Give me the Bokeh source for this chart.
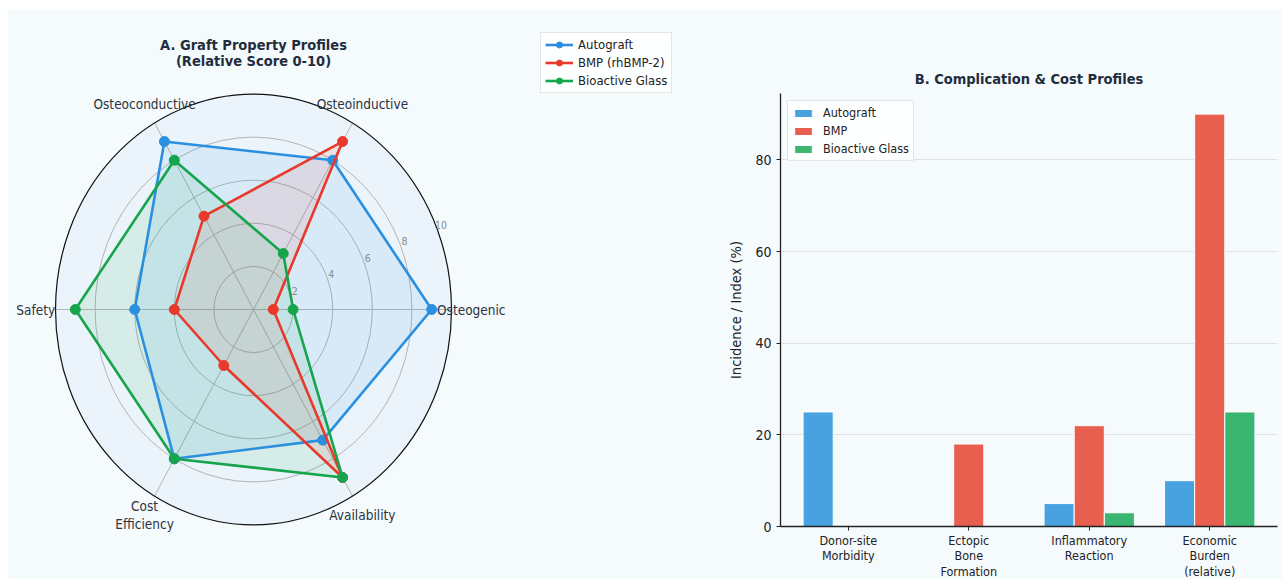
import numpy as np
from bokeh.plotting import figure
from bokeh.layouts import row, column
from bokeh.models import (Legend, LegendItem, Label, FixedTicker, Range1d, ColumnDataSource)
from bokeh.core.properties import value
from bokeh.embed import file_html
from bokeh.resources import INLINE

# ---------------- data ----------------
radar_categories = ["Osteogenic", "Osteoinductive", "Osteoconductive", "Safety", "Cost\nEfficiency", "Availability"]
autograft_scores = [9, 8, 9, 6, 8, 7]
bmp_scores = [1, 9, 5, 4, 3, 9]
bioglass_scores = [2, 3, 8, 9, 8, 9]
radar_series_names = ["Autograft", "BMP (rhBMP-2)", "Bioactive Glass"]
ring_ticks = [2, 4, 6, 8, 10]

bar_categories = ["Donor-site\nMorbidity", "Ectopic\nBone\nFormation", "Inflammatory\nReaction", "Economic\nBurden\n(relative)"]
bar_autograft = [25, 0, 5, 10]
bar_bmp = [0, 18, 22, 90]
bar_bioglass = [0, 0, 3, 25]
bar_series_names = ["Autograft", "BMP", "Bioactive Glass"]
y_ticks = [0, 20, 40, 60, 80]

BLUE = "#2a8fdf"
RED = "#e8392b"
GREEN = "#16a44c"
BAR_COLORS = ["#3498db", "#e74c3c", "#27ae60"]
BG = "#f5fafd"
TXT = "#2b3440"
TITLE = "#1f2d3d"
FONT = "'DejaVu Sans Condensed', 'DejaVu Sans'"

OX, OY = 8, 10                 # white page margin (left, top)
H = 579 - OY
TOP, BOTTOM = 93 - OY, 53      # bar chart frame borders (px)
FH = H - TOP - BOTTOM

# ---------------- radar ----------------
W1 = 680 - OX
cx_px, cy_px = 253 - OX, 309 - OY   # canvas px of radar centre
sx, sy = 19.8, 21.55                 # px per score unit
p1 = figure(width=W1, height=H, output_backend="svg", toolbar_location=None,
            x_range=Range1d(-cx_px / sx, (W1 - cx_px) / sx),
            y_range=Range1d(-(H - cy_px) / sy, cy_px / sy),
            min_border=0, outline_line_color=None, x_axis_type=None, y_axis_type=None)
p1.grid.visible = False
p1.background_fill_color = BG
p1.border_fill_color = BG

n = len(radar_categories)
angles = np.arange(n) * 2 * np.pi / n

p1.ellipse(x=0, y=0, width=20, height=20, fill_color="#ecf4fb", line_color=None)
for r in ring_ticks[:-1]:
    p1.ellipse(x=0, y=0, width=2 * r, height=2 * r, fill_color=None, line_color="#b3b3b3", line_width=1)
for a in angles:
    p1.line(x=[0, 10 * np.cos(a)], y=[0, 10 * np.sin(a)], line_color="#b3b3b3", line_width=1)

series = [(autograft_scores, BLUE), (bmp_scores, RED), (bioglass_scores, GREEN)]
items = []
for (vals, col), name in zip(series, radar_series_names):
    v = np.array(vals, dtype=float)
    xs = list(v * np.cos(angles)) + [v[0] * np.cos(angles[0])]
    ys = list(v * np.sin(angles)) + [v[0] * np.sin(angles[0])]
    p1.patch(xs, ys, fill_color=col, fill_alpha=0.1, line_color=None)
for (vals, col), name in zip(series, radar_series_names):
    v = np.array(vals, dtype=float)
    xs = list(v * np.cos(angles)) + [v[0] * np.cos(angles[0])]
    ys = list(v * np.sin(angles)) + [v[0] * np.sin(angles[0])]
    ln = p1.line(xs, ys, line_color=col, line_width=2.6)
    sc = p1.scatter(xs[:-1], ys[:-1], size=10, fill_color=col, line_color=col)
    items.append(LegendItem(label=name, renderers=[ln, sc]))

p1.ellipse(x=0, y=0, width=20, height=20, fill_color=None, line_color="#111111", line_width=1.2)

ra = np.deg2rad(22.5)
rl = np.array(ring_ticks, dtype=float) + 0.25
p1.text(x=rl * np.cos(ra), y=rl * np.sin(ra), text=[str(t) for t in ring_ticks],
        text_font=value(FONT), text_font_size="10.5px", text_color="#8a8a8a",
        text_align="center", text_baseline="middle")

lr = 11.0
p1.text(x=lr * np.cos(angles), y=lr * np.sin(angles), text=radar_categories,
        text_font=value(FONT), text_font_size="13.5px", text_color=TXT,
        text_align="center", text_baseline="middle", text_line_height=1.15)

p1.add_layout(Label(x=cx_px, y=H - (44 - OY), x_units="screen", y_units="screen",
                    text="A. Graft Property Profiles", text_font=FONT, text_font_size="14.5px",
                    text_font_style="bold", text_color=TITLE, text_align="center", text_baseline="middle"))
p1.add_layout(Label(x=cx_px, y=H - (60 - OY), x_units="screen", y_units="screen",
                    text="(Relative Score 0-10)", text_font=FONT, text_font_size="14.5px",
                    text_font_style="bold", text_color=TITLE, text_align="center", text_baseline="middle"))

leg1 = Legend(items=items, location=(540 - OX, H - (93 - OY)), label_text_font=FONT,
              label_text_font_size="13px", label_text_color="#222222",
              glyph_width=28, glyph_height=15, label_height=15,
              spacing=3, padding=4, margin=0, border_line_color="#cccccc", border_line_width=1,
              background_fill_color="white", background_fill_alpha=0.9, label_standoff=5)
p1.add_layout(leg1, "center")

# ---------------- bars ----------------
W2 = 1282 - 680
p2 = figure(width=W2, height=H, output_backend="svg", toolbar_location=None,
            x_range=Range1d(-0.5625, 3.5625), y_range=Range1d(0, 94.5),
            min_border_left=100, min_border_right=5, min_border_top=TOP, min_border_bottom=BOTTOM,
            frame_height=FH,
            outline_line_color=None, title="B. Complication & Cost Profiles")
p2.background_fill_color = BG
p2.border_fill_color = BG
p2.title.align = "center"
p2.title.text_font = FONT
p2.title.text_font_size = "14.5px"
p2.title.text_font_style = "bold"
p2.title.text_color = TITLE
p2.title.standoff = 13

xs0 = np.arange(len(bar_categories))
width = 0.25
bar_items = []
for k, (vals, col, name) in enumerate(zip([bar_autograft, bar_bmp, bar_bioglass], BAR_COLORS, bar_series_names)):
    src = ColumnDataSource(dict(x=xs0 + (k - 1) * width, top=vals))
    r = p2.vbar(x="x", top="top", width=width, source=src, fill_color=col, fill_alpha=0.9,
                line_color="white", line_width=1)
    bar_items.append(LegendItem(label=name, renderers=[r]))

p2.xgrid.visible = False
p2.ygrid.grid_line_color = "#dfe3e6"
p2.ygrid.grid_line_width = 1
p2.ygrid.ticker = FixedTicker(ticks=y_ticks)
p2.yaxis.ticker = FixedTicker(ticks=y_ticks)
p2.xaxis.ticker = FixedTicker(ticks=list(xs0))
p2.xaxis.major_label_overrides = {int(i): c for i, c in zip(xs0, bar_categories)}
for ax in (p2.xaxis[0], p2.yaxis[0]):
    ax.axis_line_color = "#222222"
    ax.axis_line_width = 1.3
    ax.major_tick_line_color = "#222222"
    ax.major_tick_out = 4
    ax.major_tick_in = 0
    ax.minor_tick_line_color = None
    ax.major_label_text_font = FONT
    ax.major_label_text_color = "#222222"
p2.xaxis.major_label_text_font_size = "12.5px"
p2.xaxis.major_label_text_line_height = 1.05
p2.xaxis.major_label_standoff = 2
p2.yaxis.major_label_text_font_size = "14px"
p2.yaxis.axis_label = "Incidence / Index (%)"
p2.yaxis.axis_label_text_font = FONT
p2.yaxis.axis_label_text_font_size = "14.5px"
p2.yaxis.axis_label_text_font_style = "normal"
p2.yaxis.axis_label_text_color = "#222222"
p2.yaxis.axis_label_standoff = 8

leg2 = Legend(items=bar_items, location="top_left", label_text_font=FONT, label_text_font_size="12.5px",
              label_text_color="#222222", glyph_width=22, glyph_height=10, label_height=15,
              spacing=3, padding=4, margin=7, border_line_color="#cccccc",
              background_fill_color="white", background_fill_alpha=0.9, label_standoff=9)
p2.add_layout(leg2)

layout = row(column(p1), column(p2), margin=(OY, 0, 0, OX), styles={"background-color": BG})
open("out.html", "w").write(file_html(layout, INLINE))
